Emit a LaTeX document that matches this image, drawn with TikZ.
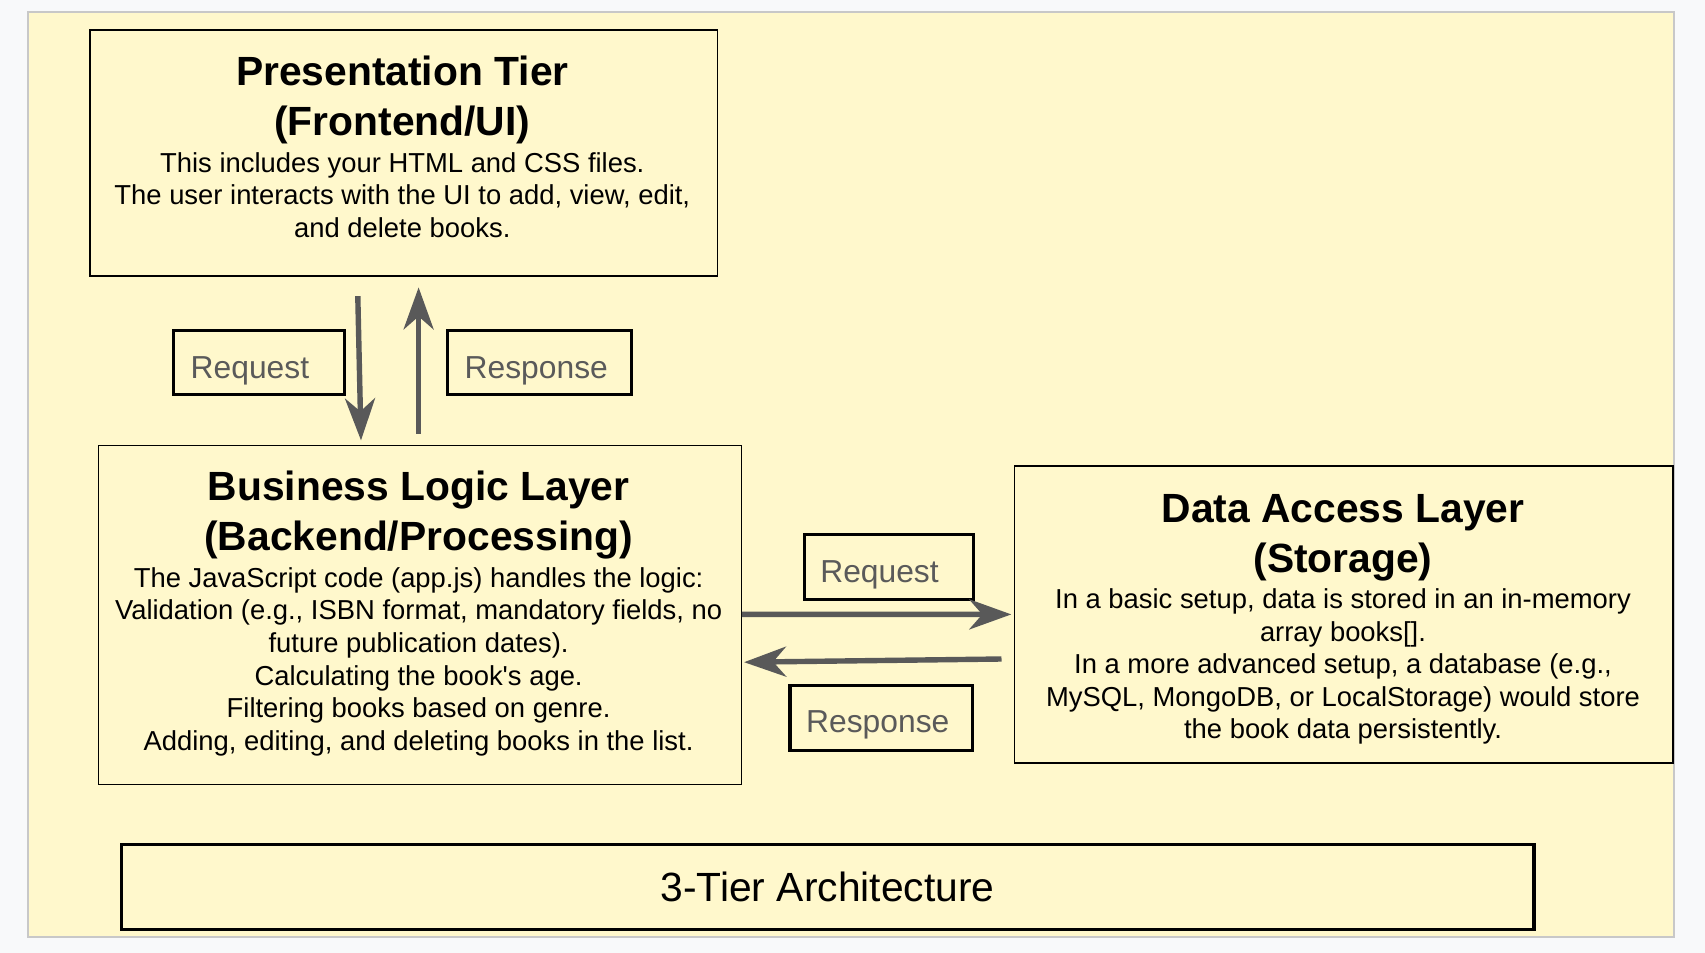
\documentclass[tikz,border=0pt]{standalone}
\usepackage{fontspec}
\setmainfont{Liberation Sans}
\usetikzlibrary{arrows.meta,calc}
\definecolor{pagebg}{RGB}{248,249,250}
\definecolor{canvas}{RGB}{255,248,204}
\definecolor{framegray}{RGB}{200,200,200}
\definecolor{flowgray}{RGB}{89,89,89}
\definecolor{labelgray}{RGB}{90,90,90}
\begin{document}
\begin{tikzpicture}[x=0.5pt,y=-0.5pt,
  layerbox/.style={draw=black,line width=0.7pt,inner sep=0pt,anchor=north west},
  tagbox/.style={draw=black,line width=1.6pt,inner sep=0pt,anchor=north west,minimum height=32.3pt},
  tagtext/.style={anchor=west,inner sep=0pt,text=labelgray,font=\fontsize{15.9}{19}\selectfont},
  titletext/.style={align=center,inner sep=0pt,font=\fontsize{20.4}{25}\selectfont\bfseries},
  bodytext/.style={align=center,inner sep=0pt,font=\fontsize{13.7}{16.3}\selectfont},
  flow/.style={draw=flowgray,line width=2.7pt,-{Stealth[length=21pt,width=15pt,inset=6.5pt]}}
]
\useasboundingbox (0,0) rectangle (1705,953);
\fill[pagebg] (0,0) rectangle (1705,953);
\draw[fill=canvas,draw=framegray,line width=1pt] (28,12) rectangle (1674,937);

% layer boxes
\node[layerbox,minimum width=313.7pt,minimum height=122.85pt] (pres) at (89.2,29.4) {};
\node[layerbox,minimum width=321.3pt,minimum height=169.65pt] (biz) at (97.9,444.7) {};
\node[layerbox,minimum width=329.45pt,minimum height=148.45pt] (dal) at (1013.5,465.4) {};
\node[layerbox,line width=1.7pt,minimum width=706.25pt,minimum height=42.4pt,
      font=\fontsize{20.4}{25}\selectfont] (arch) at (119.6,842.7) {3-Tier Architecture};

% texts
\node[titletext] (prestitle) at (402.3,100) {Presentation Tier\\(Frontend/UI)};
\node[bodytext] (presbody) at (402.3,195) {This includes your HTML and CSS files.\\The user interacts with the UI to add, view, edit,\\and delete books.};

\node[titletext] (biztitle) at (418.6,515.4) {Business Logic Layer\\(Backend/Processing)};
\node[bodytext] (bizbody) at (418.6,661.7) {The JavaScript code (app.js) handles the logic:\\Validation (e.g., ISBN format, mandatory fields, no\\future publication dates).\\Calculating the book\textquotesingle s age.\\Filtering books based on genre.\\Adding, editing, and deleting books in the list.};

\node[titletext] (daltitle) at (1343,537.6) {Data Access Layer\\(Storage)};
\node[bodytext] (dalbody) at (1343,666.6) {In a basic setup, data is stored in an in-memory\\array books[].\\In a more advanced setup, a database (e.g.,\\MySQL, MongoDB, or LocalStorage) would store\\the book data persistently.};

% tags
\node[tagbox,minimum width=85.35pt] (reqA) at (171.8,328.6) {};
\node[tagtext] (reqAt) at (190.3,370.8) {Request};
\node[tagbox,minimum width=91.9pt] (resA) at (445.8,328.6) {};
\node[tagtext] (resAt) at (464.3,370.8) {Response};
\node[tagbox,minimum width=84.8pt] (reqB) at (802.5,533) {};
\node[tagtext] (reqBt) at (819.9,575.3) {Request};
\node[tagbox,minimum width=91.3pt] (resB) at (788.4,684.2) {};
\node[tagtext] (resBt) at (805.8,725.3) {Response};

% connectors
\draw[flow] ([shift={(268.6,19.6)}]pres.south west) -- ([shift={(263.1,-4.3)}]biz.north west);
\draw[flow] ([shift={(320.7,-10.8)}]biz.north west) -- ([shift={(329.4,10.9)}]pres.south west);
\draw[flow] ([shift={(0,169.7)}]biz.north east) -- ([shift={(-2.2,149)}]dal.north west);
\draw[flow] ([shift={(-12,193.6)}]dal.north west) -- ([shift={(2.2,217.5)}]biz.north east);
\end{tikzpicture}
\end{document}
